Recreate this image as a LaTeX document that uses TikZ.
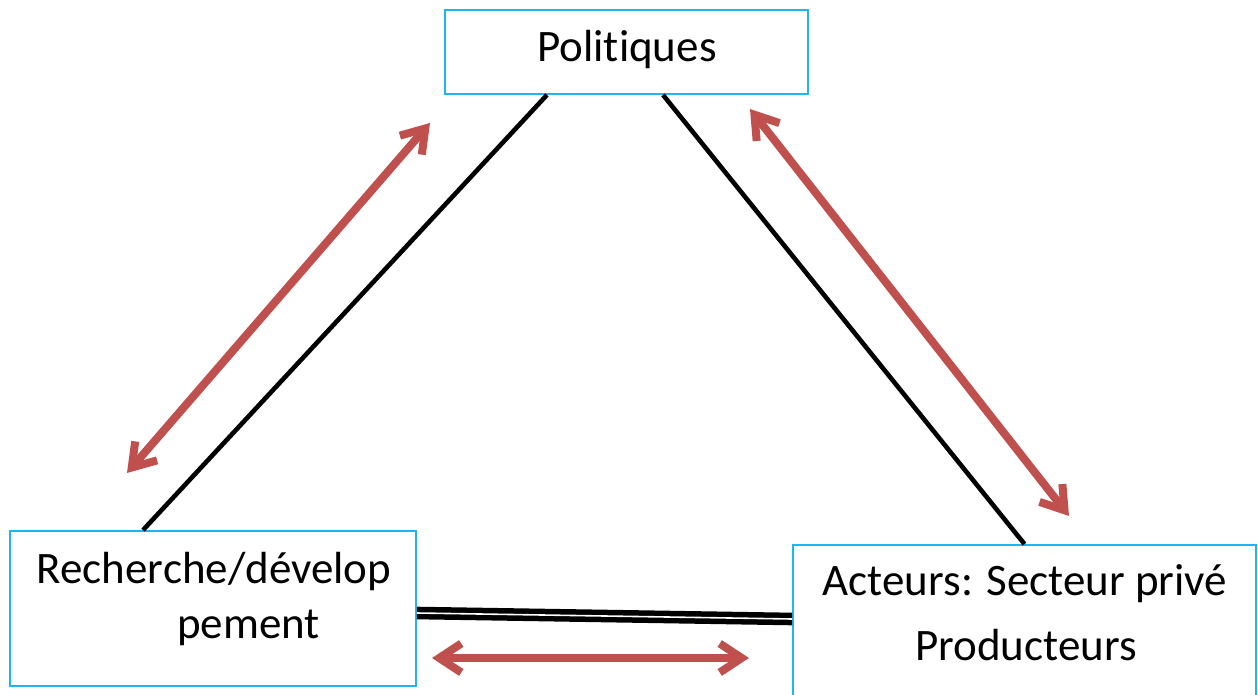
\documentclass[tikz,border=0pt]{standalone}
\usepackage{fontspec}
\setmainfont{Carlito}[Ligatures=NoCommon]
\usetikzlibrary{arrows.meta}
\definecolor{boxblue}{HTML}{1FB6EF}
\definecolor{arrowred}{HTML}{C0504D}
\tikzset{
  box/.style={draw=boxblue, line width=1.8pt, fill=white, inner sep=0pt},
  label text/.style={font=\fontsize{45}{54}\selectfont, anchor=base, inner sep=0pt},
  link/.style={draw=black, line width=4.6pt},
  twin/.style={draw=black, double=white, double distance=1.6pt, line width=5.5pt},
  flow/.style={draw=arrowred, line width=8pt, line cap=round,
    {Straight Barb[length=22pt, width=29pt]}-{Straight Barb[length=22pt, width=29pt]}},
}
\begin{document}
\begin{tikzpicture}[x=1pt, y=-1pt]
  \useasboundingbox (0,0) rectangle (1258,695);

  % boxes
  \node[box, minimum width=363pt, minimum height=84pt] (pol) at (626.5,52) {};
  \node[box, minimum width=406pt, minimum height=155pt] (rd) at (213,608.5) {};
  \node[box, minimum width=463pt, minimum height=160pt] (ac) at (1024.5,625) {};

  % box texts
  \node[label text] (polt) at (627,62) {Politiques};
  \node[label text] (rdt1) at (214,583) {Recherche/dévelop};
  \node[label text] (rdt2) at (248.5,638) {pement};
  \node[label text] (act1) at (1025,595) {Acteurs: Secteur privé};
  \node[label text] (act2) at (1026,660) {Producteurs};

  % black links between the boxes
  \draw[link] ([xshift=-79.5pt]pol.south) -- ([xshift=-70pt]rd.north);
  \draw[link] ([xshift=36.5pt]pol.south) -- (ac.north);
  \draw[twin] ([yshift=-4.5pt]rd.east) -- ([yshift=6pt]ac.west);

  % two-way red arrows
  \coordinate (a1) at (127,473);
  \coordinate (a2) at (430,123);
  \coordinate (b1) at (750,109);
  \coordinate (b2) at (1069,516);
  \coordinate (c1) at (432,658);
  \coordinate (c2) at (749,658);
  \draw[flow] (a1) -- (a2);
  \draw[flow] (b1) -- (b2);
  \draw[flow] (c1) -- (c2);
\end{tikzpicture}
\end{document}
